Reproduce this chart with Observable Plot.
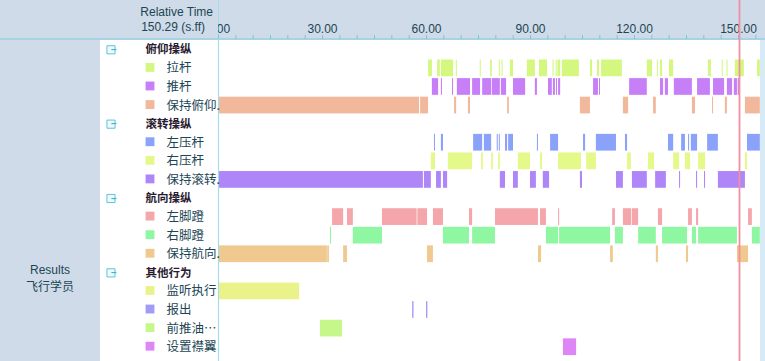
<!DOCTYPE html>
<html><head><meta charset="utf-8">
<script src="https://cdn.jsdelivr.net/npm/d3@7"></script>
<script src="https://cdn.jsdelivr.net/npm/@observablehq/plot@0.6"></script>
<style>
body{margin:0;background:#fff;}
#wrap{position:relative;width:765px;height:361px;overflow:hidden;font-family:"Liberation Sans",Arial,sans-serif;color:#1c4656;}
.bg{position:absolute;}
#chart{position:absolute;left:0;top:0;}
#hdr{position:absolute;left:100px;top:0;width:118px;height:38px;background:#cfdbe8;}
#hdr div{position:absolute;right:13px;font-size:12px;line-height:14px;white-space:nowrap;}
#res{position:absolute;left:0;width:100px;top:262px;text-align:center;font-size:12px;line-height:16px;}
</style></head><body>
<div id="wrap">
 <div class="bg" style="left:0;top:0;width:765px;height:39px;background:#cfdbe8"></div>
 <div class="bg" style="left:0;top:39px;width:100px;height:322px;background:#cfdbe8"></div>
 <div class="bg" style="left:760px;top:39px;width:5px;height:322px;background:#d6ebf5"></div>
 <div class="bg" style="left:0;top:38px;width:765px;height:1.5px;background:#a6d4e4"></div>
 <div id="chart"></div>
 <div id="hdr"><div style="top:5px;right:5px">Relative Time</div><div style="top:20px">150.29 (s.ff)</div></div>
 <div id="res">Results<br><span style="font-family:'Noto Sans CJK SC'">飞行学员</span></div>
</div>
<script>
// ---- categories ----
const groups = ["俯仰操纵", "滚转操纵", "航向操纵", "其他行为"];
const behaviorsByGroup = [
  ["拉杆", "推杆", "保持俯仰."],
  ["左压杆", "右压杆", "保持滚转."],
  ["左脚蹬", "右脚蹬", "保持航向."],
  ["监听执行", "报出", "前推油…", "设置襟翼"]
];
// ---- tick labels ----
const majorTicks = [0, 30, 60, 90, 120, 150];
const minorTicks = d3.range(0, 157, 5);
const currentTime = 150.29;
const timeDomain = [0, 156.35];

// ---- series values: [start, end] in seconds ----
const laGan = [[60.6,61.7],[63.2,64.0],[64.3,67.8],[68.6,68.9],[75.5,75.8],[78.5,79.0],[81.0,81.3],[81.8,82.1],[84.2,85.1],[89.1,91.4],[92.6,94.9],[96.5,96.8],[97.4,97.7],[97.9,98.7],[99.2,104.1],[107.3,107.9],[109.3,109.9],[110.5,116.5],[123.7,125.2],[126.6,126.9],[127.5,128.1],[130.1,131.3],[141.3,142.2],[145.3,145.6],[146.7,147.0],[149.1,151.7],[155.5,156.3]];
const tuiGan = [[61.7,63.5],[64.3,64.6],[67.5,67.8],[68.9,72.7],[73.3,75.6],[76.2,78.8],[79.0,81.3],[81.6,83.1],[85.1,88.6],[91.4,92.0],[95.2,96.3],[96.6,97.2],[97.5,97.8],[98.1,98.7],[108.2,109.6],[109.9,110.2],[118.6,123.7],[127.5,128.4],[128.9,129.8],[131.5,136.7],[138.2,141.9],[142.8,146.0],[146.8,148.3],[148.8,149.7],[149.9,150.3]];
const baoChiFuYang = [[0,58.0],[58.3,60.6],[68.1,68.7],[72.1,72.7],[83.4,83.9],[104.4,107.3],[116.8,118.3],[125.5,126.3],[136.7,137.6],[142.5,142.8],[146.2,146.8],[152.0,156.3]];
const zuoYaGan = [[62.3,62.6],[64.3,64.9],[73.6,76.2],[76.7,78.8],[80.4,80.7],[81.0,81.3],[82.8,83.4],[83.7,85.1],[92.0,92.3],[95.8,98.1],[105.3,105.9],[109.0,114.8],[117.4,118.0],[129.8,131.3],[133.6,134.7],[135.6,135.9],[136.4,138.2],[141.1,144.2],[152.6,156.3]];
const youYaGan = [[61.4,62.6],[66.3,73.3],[75.9,76.4],[78.8,79.3],[80.8,81.3],[86.5,90.0],[92.9,93.5],[98.1,104.7],[106.2,109.0],[118.0,119.1],[124.0,125.8],[131.3,133.0],[134.7,136.2],[138.5,140.5],[152.0,152.6]];
const baoChiGunZhuan = [[0,59.1],[59.4,61.4],[62.9,64.3],[64.9,66.1],[81.3,82.8],[85.1,86.5],[90.0,91.7],[93.7,95.5],[104.4,105.0],[114.8,116.8],[119.4,123.7],[126.1,129.2],[133.0,133.3],[137.9,138.2],[140.2,140.5],[144.2,152.0]];
const zuoJiaoDeng = [[32.9,36.1],[37.2,38.9],[47.3,57.3],[57.5,60.3],[62.0,64.9],[72.4,73.3],[79.9,92.3],[92.9,94.6],[98.1,98.4],[113.7,114.5],[116.8,119.2],[119.4,121.2],[126.9,128.1],[135.6,136.7],[137.9,138.5],[152.9,154.0]];
const youJiaoDeng = [[32.3,32.6],[38.9,47.3],[64.9,72.4],[73.3,79.9],[94.6,98.1],[98.4,113.1],[114.5,116.8],[121.2,126.3],[128.1,135.3],[136.7,137.9],[138.5,149.7],[154.0,156.3]];
const baoChiHangXiang = [[0,31.4],[31.5,32.0],[36.1,37.2],[60.3,62.0],[92.3,93.2],[113.1,113.9],[126.3,126.9],[135.0,135.6],[149.7,152.9]];
const jianTingZhiXing = [[0,23.4]];
const baoChu = [[56.0,56.4],[60.0,60.4]];
const qianTuiYou = [[29.4,35.8]];
const sheZhiJinYi = [[99.5,103.3]];

const seriesByBehavior = {
  "拉杆": laGan, "推杆": tuiGan, "保持俯仰.": baoChiFuYang,
  "左压杆": zuoYaGan, "右压杆": youYaGan, "保持滚转.": baoChiGunZhuan,
  "左脚蹬": zuoJiaoDeng, "右脚蹬": youJiaoDeng, "保持航向.": baoChiHangXiang,
  "监听执行": jianTingZhiXing, "报出": baoChu, "前推油…": qianTuiYou, "设置襟翼": sheZhiJinYi
};

// ---- styles ----
const behaviorColors = {
  "拉杆": "#d4f77f", "推杆": "#c77ff7", "保持俯仰.": "#f2b89c",
  "左压杆": "#8aa2fa", "右压杆": "#e4f98a", "保持滚转.": "#ae86f8",
  "左脚蹬": "#f5a6ab", "右脚蹬": "#8ff7a2", "保持航向.": "#efc98f",
  "监听执行": "#eaf28a", "报出": "#a29cf7", "前推油…": "#c6f78a", "设置襟翼": "#df86f7"
};

// ---- build tables ----
const rows = [];
groups.forEach((g, i) => {
  rows.push({key: g, group: true});
  behaviorsByGroup[i].forEach(b => rows.push({key: b, group: false}));
});
const rowKeys = rows.map(r => r.key);
const items = rows.filter(r => !r.group);
const headers = rows.filter(r => r.group);
const intervals = [];
for (const [b, list] of Object.entries(seriesByBehavior))
  for (const [s, e] of list) intervals.push({key: b, start: s, end: e});

const textColor = "#1c4656";
const cjk = "'Noto Sans CJK SC', sans-serif";

const chart = Plot.plot({
  width: 765, height: 361,
  marginLeft: 218, marginRight: 5, marginTop: 38, marginBottom: 0,
  style: {background: "transparent", fontFamily: "'Liberation Sans', Arial, sans-serif", overflow: "visible"},
  x: {domain: timeDomain, axis: null},
  y: {type: "band", domain: rowKeys, range: [40, 356], paddingInner: 0.1, paddingOuter: 0.05, round: false, axis: null},
  color: {type: "identity"},
  marks: [
    Plot.barX(intervals, {x1: "start", x2: "end", y: "key", fill: d => behaviorColors[d.key]}),
    Plot.ruleX([0], {stroke: "#a8dbe8", strokeWidth: 1.2, insetTop: -38}),
    Plot.axisX({anchor: "top", ticks: minorTicks, tickSize: 4, tickFormat: () => "", stroke: "#7cc6da", label: null}),
    Plot.axisX({anchor: "top", ticks: majorTicks, tickSize: 0, tickPadding: 6, tickFormat: d => d.toFixed(2), fill: textColor, fontSize: 12, label: null}),
    Plot.ruleX([currentTime], {stroke: "#f28da2", strokeWidth: 1.8, insetTop: -38}),
    // legend column
    Plot.dot(headers, {y: "key", frameAnchor: "left", dx: -107.5, symbol: "square", r: 4.6, fill: "#eef9fc", stroke: "#62c4d8", strokeWidth: 1}),
    Plot.text(headers, {y: "key", frameAnchor: "left", dx: -107.5, text: () => "−", fill: "#3fb4cc", fontSize: 10, fontWeight: "bold"}),
    Plot.text(headers, {y: "key", frameAnchor: "left", dx: -73, text: "key", textAnchor: "start", fill: "#2a1a30", fontSize: 11.5, fontWeight: "bold", fontFamily: cjk}),
    Plot.dot(items, {y: "key", frameAnchor: "left", dx: -68.5, dy: -1, symbol: "square", r: 5, fill: d => behaviorColors[d.key]}),
    Plot.text(items, {y: "key", frameAnchor: "left", dx: -52, text: "key", textAnchor: "start", fill: textColor, fontSize: 12.5, fontFamily: cjk})
  ]
});
document.getElementById("chart").appendChild(chart);
</script>
</body></html>
